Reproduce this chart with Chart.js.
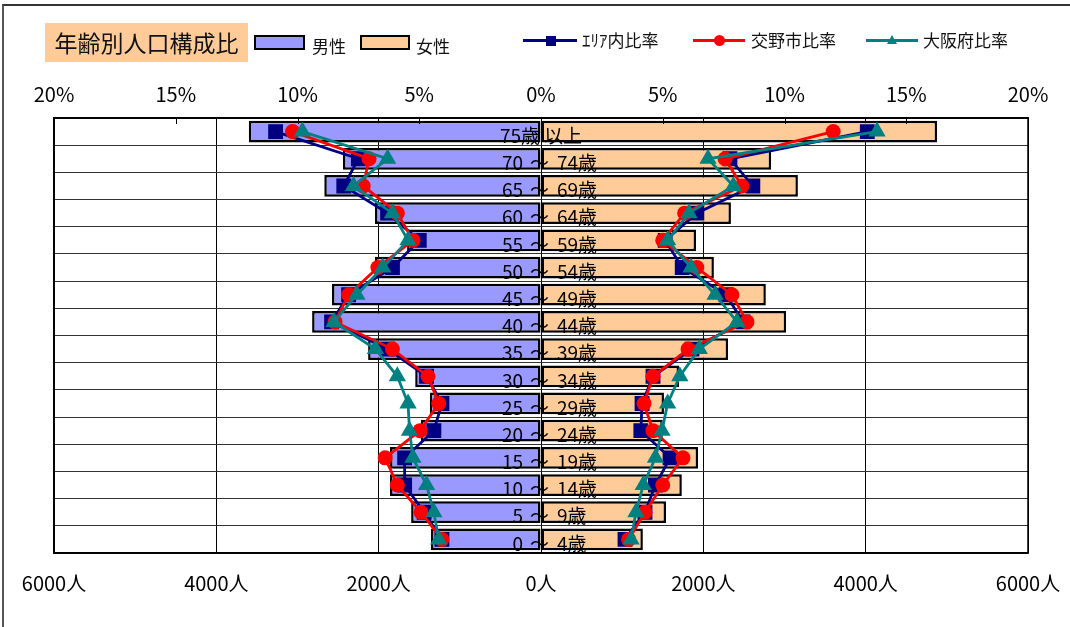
<!DOCTYPE html>
<html lang="ja">
<head>
<meta charset="utf-8">
<title>年齢別人口構成比</title>
<script src="https://cdn.jsdelivr.net/npm/chart.js@4.4.1/dist/chart.umd.min.js"></script>
<style>
  body { margin: 0; background: #fff; font-family: "Noto Sans CJK JP", sans-serif; }
  #wrap { position: relative; width: 1070px; height: 627px; overflow: hidden; }
  #frame { position: absolute; left: 2px; top: 4px; width: 1100px; height: 700px;
           border-top: 2px solid #333; border-left: 2px solid #555; }
  .abs { position: absolute; }
  #title { left: 45px; top: 23px; width: 203px; height: 39px; background: #FFCC99;
           font-size: 23px; line-height: 39px; text-align: center; color: #111; }
  .box { height: 11px; border: 2.5px solid #000; top: 35px; }
  .lab { font-size: 17px; color: #111; line-height: 20px; }
  .ln { height: 3px; top: 39px; }
</style>
</head>
<body>
<div id="wrap">
  <canvas id="myChart"></canvas>
  <div id="frame"></div>
  <div id="title" class="abs">年齢別人口構成比</div>

  <div class="abs box" style="left:254px;width:47px;background:#9999FF"></div>
  <div class="abs lab" style="left:312px;top:36px">男性</div>
  <div class="abs box" style="left:360px;width:46px;background:#FFCC99"></div>
  <div class="abs lab" style="left:416px;top:36px">女性</div>

  <div class="abs ln" style="left:523px;width:54px;background:#000080"></div>
  <div class="abs" style="left:546px;top:36px;width:10px;height:10px;background:#000080"></div>
  <div class="abs lab" style="left:582px;top:30px">ｴﾘｱ内比率</div>

  <div class="abs ln" style="left:693px;width:52px;background:#FF0000"></div>
  <div class="abs" style="left:714px;top:35px;width:11px;height:11px;border-radius:50%;background:#FF0000"></div>
  <div class="abs lab" style="left:751px;top:30px">交野市比率</div>

  <div class="abs ln" style="left:866px;width:52px;background:#008080"></div>
  <div class="abs" style="left:887px;top:35px;width:0;height:0;border-left:5px solid transparent;border-right:5px solid transparent;border-bottom:9px solid #008080"></div>
  <div class="abs lab" style="left:923px;top:30px">大阪府比率</div>
</div>
<script>
const ctx = document.getElementById('myChart');

// categories, top row first
const ageLabels = ['75歳 以上', '70 ～ 74歳', '65 ～ 69歳', '60 ～ 64歳', '55 ～ 59歳', '50 ～ 54歳',
  '45 ～ 49歳', '40 ～ 44歳', '35 ～ 39歳', '30 ～ 34歳', '25 ～ 29歳', '20 ～ 24歳',
  '15 ～ 19歳', '10 ～ 14歳', '5 ～ 9歳', '0 ～ 4歳'];

// population (people)
const malePop   = [3600, 2440, 2670, 2045, 1650, 2045, 2575, 2820, 2130, 1550, 1370, 1480, 1860, 1860, 1600, 1355];
const femalePop = [4880, 2835, 3165, 2340, 1910, 2130, 2770, 3020, 2305, 1700, 1515, 1500, 1935, 1735, 1540, 1255];

// share of each age group (%)
const areaMale   = [10.9, 7.5, 8.1, 6.3, 5.0, 6.1, 7.9, 8.6, 6.3, 4.7, 4.07, 4.4, 5.6, 5.6, 4.8, 4.07];
const areaFemale = [13.4, 7.76, 8.7, 6.4, 5.1, 5.8, 7.6, 8.3, 6.2, 4.6, 4.15, 4.1, 5.3, 4.7, 4.27, 3.45];
const cityMale   = [10.2, 7.06, 7.3, 5.9, 5.26, 6.7, 7.9, 8.46, 6.1, 4.64, 4.2, 4.97, 6.4, 5.9, 4.93, 4.07];
const cityFemale = [12.0, 7.56, 8.25, 5.9, 5.0, 6.4, 7.84, 8.46, 6.04, 4.6, 4.23, 4.6, 5.83, 5.0, 4.27, 3.6];
const prefMale   = [9.8, 6.3, 7.7, 6.1, 5.46, 6.5, 7.56, 8.5, 6.8, 5.9, 5.46, 5.4, 5.26, 4.7, 4.4, 4.2];
const prefFemale = [13.8, 6.86, 7.9, 6.08, 5.2, 6.16, 7.15, 8.05, 6.5, 5.7, 5.2, 4.97, 4.7, 4.2, 3.9, 3.7];

const tickFont = { family: '"Noto Sans CJK JP", sans-serif', size: 20 };

// male values go to the left
const neg = arr => arr.map(v => -v);

function lineSet(data, color, style, radius, order) {
  return {
    type: 'line',
    data: data,
    xAxisID: 'xp',
    borderColor: color,
    backgroundColor: color,
    borderWidth: 2.8,
    pointStyle: style,
    pointRadius: radius,
    pointHoverRadius: radius,
    pointBorderWidth: 0,
    tension: 0,
    order: order
  };
}

//keep the plot area where the layout padding puts it (edge labels may hang over)
function noEdgePadding(scale, h) {
  scale.height = h;
  scale.paddingLeft = 0;
  scale.paddingRight = 0;
}

//draws the age labels across the zero line + inward ticks of the % axis + plot border
const centerLabels = {
  id: 'centerLabels',
  afterDatasetsDraw(chart) {
    const c = chart.ctx;
    const x = chart.scales.x, y = chart.scales.y, xp = chart.scales.xp;
    const area = chart.chartArea;
    const cx = x.getPixelForValue(0);
    c.save();
    c.strokeStyle = '#000';
    c.lineWidth = 1;
    xp.ticks.forEach(t => {
      const px = Math.round(xp.getPixelForValue(t.value)) + 0.5;
      c.beginPath();
      c.moveTo(px, area.top);
      c.lineTo(px, area.top + 6);
      c.stroke();
    });
    c.lineWidth = 1.5;
    c.strokeRect(area.left, area.top, area.right - area.left, area.bottom - area.top);

    c.font = '19px "Noto Sans CJK JP"';
    c.fillStyle = '#000';
    c.textBaseline = 'middle';
    ageLabels.forEach((lab, i) => {
      const py = y.getPixelForValue(i) + 4;
      if (lab.includes('～')) {
        const parts = lab.split('～').map(s => s.trim());
        c.textAlign = 'right';
        c.fillText(parts[0], cx - 18, py);
        c.textAlign = 'center';
        c.fillText('～', cx - 1.5, py);
        c.textAlign = 'left';
        c.fillText(parts[1], cx + 16, py);
      } else {
        const parts = lab.split(' ');
        c.textAlign = 'right';
        c.fillText(parts[0], cx - 1, py);
        c.textAlign = 'left';
        c.fillText(parts[1], cx + 3, py);
      }
    });
    c.restore();
  }
};

let myChart = new Chart(ctx, {
  type: 'bar',
  data: {
    labels: ageLabels,
    datasets: [
      lineSet(neg(prefMale), '#008080', 'triangle', 10, 1),
      lineSet(prefFemale, '#008080', 'triangle', 10, 1),
      lineSet(neg(cityMale), '#FF0000', 'circle', 7.5, 2),
      lineSet(cityFemale, '#FF0000', 'circle', 7.5, 2),
      lineSet(neg(areaMale), '#000080', 'rect', 10.5, 3),
      lineSet(areaFemale, '#000080', 'rect', 10.5, 3),
      {
        label: '男性',
        data: neg(malePop),
        backgroundColor: '#9999FF',
        borderColor: '#000',
        borderWidth: 2.5,
        borderSkipped: false,
        grouped: false,
        barPercentage: 0.8,
        categoryPercentage: 1,
        order: 10
      },
      {
        label: '女性',
        data: femalePop,
        backgroundColor: '#FFCC99',
        borderColor: '#000',
        borderWidth: 2.5,
        borderSkipped: false,
        grouped: false,
        barPercentage: 0.8,
        categoryPercentage: 1,
        order: 10
      }
    ]
  },
  options: {
    indexAxis: 'y',
    responsive: true,
    maintainAspectRatio: false,
    animation: false,
    layout: { padding: { left: 54, right: 42, top: 70, bottom: 24 } },
    scales: {
      x: {
        position: 'bottom',
        min: -6000,
        max: 6000,
        afterFit(scale) { noEdgePadding(scale, 50); },
        ticks: {
          stepSize: 2000,
          color: '#000',
          font: tickFont,
          padding: 18,
          maxRotation: 0,
          callback: v => Math.abs(v) + '人'
        },
        grid: { color: '#000', lineWidth: 1, drawTicks: false },
        border: { color: '#000', width: 1.5 }
      },
      xp: {
        type: 'linear',
        position: 'top',
        min: -20,
        max: 20,
        afterFit(scale) { noEdgePadding(scale, 48); },
        ticks: {
          stepSize: 5,
          color: '#000',
          font: tickFont,
          padding: 12,
          maxRotation: 0,
          callback: v => Math.abs(v) + '%'
        },
        grid: { drawOnChartArea: false, drawTicks: false },
        border: { color: '#000', width: 1.5 }
      },
      y: {
        type: 'category',
        afterFit(scale) { scale.width = 0; },
        ticks: { display: false },
        grid: { color: '#333', lineWidth: 1, offset: true, drawTicks: false },
        border: { color: '#000', width: 1.5 }
      }
    },
    plugins: {
      legend: { display: false },
      tooltip: { enabled: false }
    }
  },
  plugins: [centerLabels]
});
</script>
</body>
</html>
